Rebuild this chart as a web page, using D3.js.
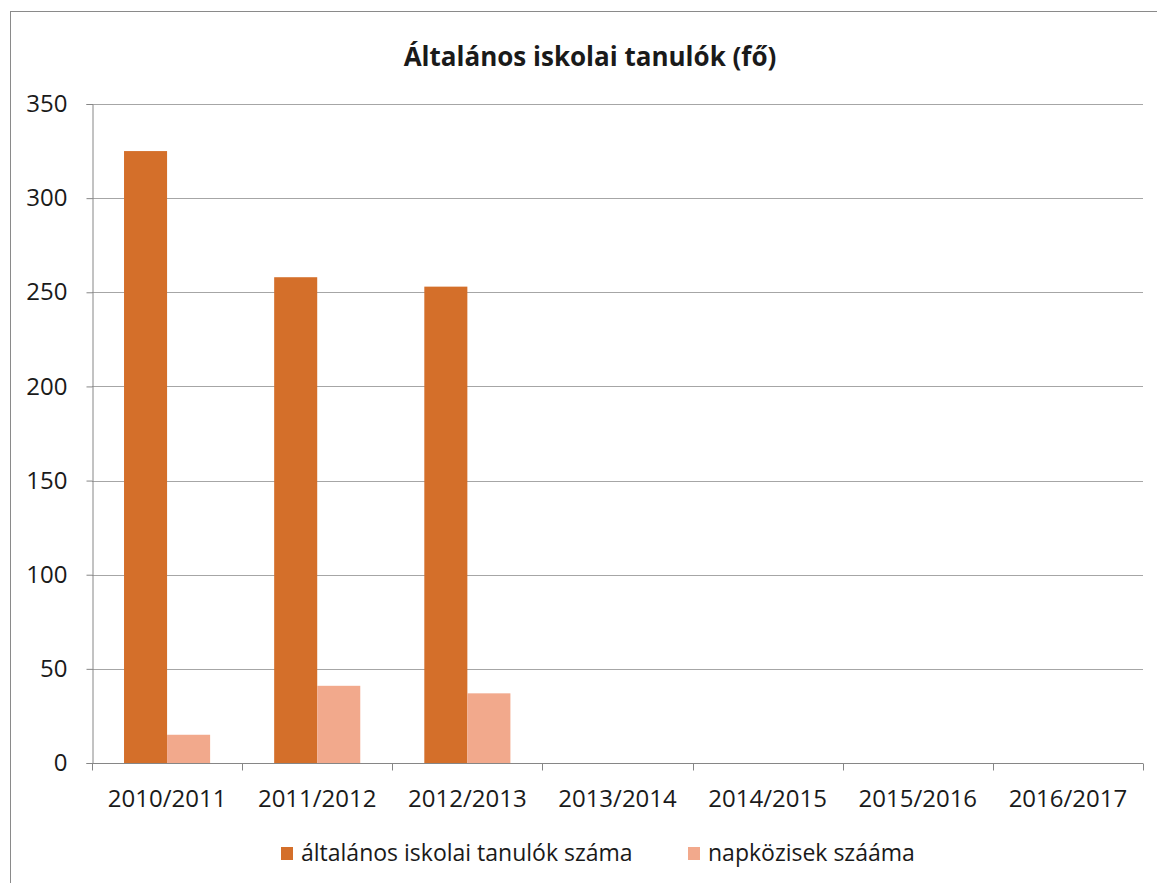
<!DOCTYPE html>
<html>
<head>
<meta charset="utf-8">
<script src="https://cdn.jsdelivr.net/npm/d3@7"></script>
<style>
  body { margin: 0; background: #fff; }
  text { font-family: "Open Sans", "Noto Sans", sans-serif; fill: #1a1a1a; }
</style>
</head>
<body>
<div id="chart"></div>
<script>
// data
const categories = ["2010/2011", "2011/2012", "2012/2013", "2013/2014", "2014/2015", "2015/2016", "2016/2017"];
const seriesNames = ["általános iskolai tanulók száma", "napközisek szááma"];
const tanulok = [325, 258, 253, null, null, null, null];
const napkozisek = [15, 41, 37, null, null, null, null];
const yTicks = [0, 50, 100, 150, 200, 250, 300, 350];
const colors = ["#D46F2A", "#F2A98C"];

function run() {
    var w = 1157, h = 883;
    var margin = { left: 92, right: 14, top: 104, bottom: 120 };
    var svg = d3.select("#chart").append("svg")
        .attr("width", w)
        .attr("height", h);

    // outer chart border
    svg.append("rect")
        .attr("x", 10.5).attr("y", 11.5)
        .attr("width", w).attr("height", h)
        .attr("fill", "none")
        .attr("stroke", "#8a8a8a")
        .attr("stroke-width", 1);

    svg.append("text")
        .attr("x", 590).attr("y", 66)
        .attr("text-anchor", "middle")
        .attr("font-size", "26px")
        .attr("font-weight", "bold")
        .text("Általános iskolai tanulók (fő)");

    var x = d3.scaleBand()
        .domain(categories)
        .range([margin.left, w - margin.right]);
    var x1 = d3.scaleBand()
        .domain(d3.range(seriesNames.length))
        .range([0, x.bandwidth()])
        .paddingOuter(0.744);
    var y = d3.scaleLinear()
        .domain([0, 350])
        .range([h - margin.bottom, margin.top]);

    // gridlines
    svg.append("g").selectAll("line")
        .data(yTicks.filter(function(d) { return d > 0; }))
        .enter().append("line")
        .attr("x1", margin.left).attr("x2", w - margin.right)
        .attr("y1", function(d) { return Math.round(y(d)) + 0.5; })
        .attr("y2", function(d) { return Math.round(y(d)) + 0.5; })
        .attr("stroke", "#a6a6a6");

    // bars
    var rows = categories.map(function(c, i) {
        return { cat: c, values: [tanulok[i], napkozisek[i]] };
    });
    var groups = svg.append("g").selectAll("g")
        .data(rows)
        .enter().append("g")
        .attr("transform", function(d) { return "translate(" + x(d.cat) + ",0)"; });
    groups.selectAll("rect")
        .data(function(d) {
            return d.values.map(function(v, k) { return { k: k, v: v }; })
                .filter(function(e) { return e.v != null; });
        })
        .enter().append("rect")
        .attr("x", function(d) { return x1(d.k); })
        .attr("width", x1.bandwidth())
        .attr("y", function(d) { return y(d.v); })
        .attr("height", function(d) { return y(0) - y(d.v); })
        .attr("fill", function(d) { return colors[d.k]; });

    // y axis
    var yAxis = svg.append("g")
        .attr("transform", "translate(" + (margin.left + 0.5) + ",0)")
        .call(d3.axisLeft(y).tickValues(yTicks).tickSize(6).tickPadding(19));
    yAxis.select(".domain").attr("stroke", "#868686");
    yAxis.selectAll(".tick line").attr("stroke", "#868686");
    yAxis.selectAll(".tick text").attr("font-size", "24px").attr("fill", "#1a1a1a")
        .style("font-family", "'Open Sans', sans-serif");

    // x axis
    var xAxis = svg.append("g")
        .attr("transform", "translate(0," + (Math.round(y(0)) + 0.5) + ")")
        .call(d3.axisBottom(x).tickSize(0).tickPadding(26));
    xAxis.select(".domain").attr("stroke", "#868686")
        .attr("d", "M" + margin.left + ",0H" + (w - margin.right));
    xAxis.selectAll(".tick text").attr("font-size", "24px").attr("fill", "#1a1a1a")
        .style("font-family", "'Open Sans', sans-serif");
    xAxis.append("g").selectAll("line")
        .data(categories)
        .enter().append("line")
        .attr("x1", function(d) { return Math.round(x(d)) + 0.5; })
        .attr("x2", function(d) { return Math.round(x(d)) + 0.5; })
        .attr("y1", 0).attr("y2", 7)
        .attr("stroke", "#868686");
    xAxis.append("line")
        .attr("x1", w - margin.right + 0.5).attr("x2", w - margin.right + 0.5)
        .attr("y1", 0).attr("y2", 7)
        .attr("stroke", "#868686");

    // legend
    var legendX = [281, 688];
    var legend = svg.append("g").selectAll("g")
        .data(seriesNames)
        .enter().append("g")
        .attr("transform", function(d, i) { return "translate(" + legendX[i] + ",847)"; });
    legend.append("rect")
        .attr("width", 12).attr("height", 13)
        .attr("fill", function(d, i) { return colors[i]; });
    legend.append("text")
        .attr("x", 20).attr("y", 14)
        .attr("font-size", "23px")
        .text(function(d) { return d; });
}
window.addEventListener("load", run);
</script>
</body>
</html>
